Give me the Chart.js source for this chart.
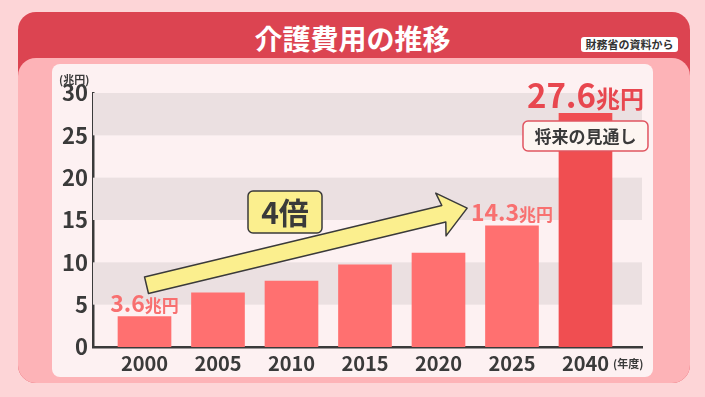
<!DOCTYPE html>
<html lang="ja">
<head>
<meta charset="utf-8">
<script src="https://cdn.jsdelivr.net/npm/chart.js@4.4.1/dist/chart.umd.min.js"></script>
<style>
  body { margin: 0; width: 705px; height: 397px; overflow: hidden; background: #fdd5d7; font-family: "Noto Sans CJK JP", sans-serif; }
  .card { position: absolute; left: 18px; top: 12px; width: 672px; height: 371px; background: #dc4451; border-radius: 18px; }
  .panel { position: absolute; left: 18px; top: 58px; width: 672px; height: 325px; background: #fdb3b7; border-radius: 18px; }
  .inner { position: absolute; left: 52px; top: 64px; width: 601px; height: 313px; background: #fdf1f2; border-radius: 8px; }
  .title { position: absolute; left: 0; top: 19px; width: 705px; text-align: center; color: #fff; font-weight: 700; font-size: 28px; line-height: 38px; }
  .source { position: absolute; left: 581px; top: 37px; width: 97px; height: 15px; background: #fff; border-radius: 3px; color: #333; font-size: 11px; font-weight: 700; line-height: 15px; text-align: center; }
  canvas { position: absolute; left: 0; top: 0; }
</style>
</head>
<body>
<div class="card"></div>
<div class="panel"></div>
<div class="inner"></div>
<div class="title">介護費用の推移</div>
<div class="source">財務省の資料から</div>
<canvas id="care" width="705" height="397"></canvas>
<script>
// data
const years = ["2000", "2005", "2010", "2015", "2020", "2025", "2040"];
const costs = [3.6, 6.4, 7.8, 9.7, 11.1, 14.3, 27.6];
const labelled = [0, 5, 6];
const bands = [[5, 10], [15, 20], [25, 30]];

const FONT = '"Noto Sans CJK JP", sans-serif';
const DARK = "#3a3a3a";

function roundBox(ctx, x, y, w, h, r, fill, stroke) {
    ctx.beginPath();
    ctx.roundRect(x, y, w, h, r);
    ctx.fillStyle = fill;
    ctx.fill();
    ctx.lineWidth = 1.5;
    ctx.strokeStyle = stroke;
    ctx.stroke();
}

// value label: big number + small unit, centered
function valueLabel(ctx, cx, bottom, num, numSize, unitSize, color) {
    ctx.font = "700 " + numSize + "px " + FONT;
    const w1 = ctx.measureText(num).width;
    ctx.font = "700 " + unitSize + "px " + FONT;
    const w2 = ctx.measureText("兆円").width;
    const x0 = cx - (w1 + w2) / 2;
    ctx.fillStyle = color;
    ctx.textAlign = "left";
    ctx.textBaseline = "alphabetic";
    ctx.font = "700 " + numSize + "px " + FONT;
    ctx.fillText(num, x0, bottom);
    ctx.font = "700 " + unitSize + "px " + FONT;
    ctx.fillText("兆円", x0 + w1, bottom);
}

const bandsPlugin = {
    id: "bands",
    beforeDatasetsDraw(chart) {
        const { ctx, chartArea, scales } = chart;
        ctx.save();
        ctx.fillStyle = "#ebe0e1";
        bands.forEach(([a, b]) => {
            const y1 = scales.y.getPixelForValue(b);
            const y2 = scales.y.getPixelForValue(a);
            ctx.fillRect(chartArea.left, y1, chartArea.right - chartArea.left, y2 - y1);
        });
        ctx.restore();
    },
};

const decoPlugin = {
    id: "deco",
    afterDatasetsDraw(chart) {
        const { ctx, scales } = chart;
        const x = scales.x, y = scales.y;
        ctx.save();

        // arrow from 2000 to 2025
        const tx = x.getPixelForValue(0) + 2, ty = y.getPixelForValue(7.3);
        const hx = x.getPixelForValue(4.39), hy = y.getPixelForValue(16.4);
        const ang = Math.atan2(hy - ty, hx - tx);
        const len = Math.hypot(hx - tx, hy - ty);
        ctx.translate(tx, ty);
        ctx.rotate(ang);
        const sw = 8.5, hw = 22, hl = 24;
        ctx.beginPath();
        ctx.moveTo(0, -sw);
        ctx.lineTo(len - hl, -sw);
        ctx.lineTo(len - hl - 3, -hw);
        ctx.lineTo(len, 0);
        ctx.lineTo(len - hl - 3, hw);
        ctx.lineTo(len - hl, sw);
        ctx.lineTo(0, sw);
        ctx.closePath();
        ctx.fillStyle = "#fbef8e";
        ctx.fill();
        ctx.lineWidth = 1.5;
        ctx.strokeStyle = DARK;
        ctx.lineJoin = "round";
        ctx.stroke();
        ctx.setTransform(1, 0, 0, 1, 0, 0);

        // 4倍 box
        roundBox(ctx, 248, 191, 74, 42, 5, "#fbef8e", DARK);
        ctx.fillStyle = DARK;
        ctx.font = "700 30px " + FONT;
        ctx.textAlign = "center";
        ctx.textBaseline = "middle";
        ctx.fillText("4倍", 285, 213);

        // value labels
        labelled.forEach((i) => {
            const cx = x.getPixelForValue(i);
            const top = y.getPixelForValue(costs[i]);
            if (i === 6) {
                valueLabel(ctx, cx, top - 5, costs[i].toFixed(1), 33, 24, "#e8474f");
            } else {
                valueLabel(ctx, cx, top - 5, costs[i].toFixed(1), 23, 17, "#f87070");
            }
        });

        // 将来の見通し
        const c6 = x.getPixelForValue(6);
        roundBox(ctx, c6 - 62.5, 121, 125, 30, 5, "#fdf6f1", "#e05560");
        ctx.fillStyle = DARK;
        ctx.font = "700 17px " + FONT;
        ctx.textAlign = "center";
        ctx.textBaseline = "middle";
        ctx.fillText("将来の見通し", c6, 137);

        // units
        ctx.font = "700 11px " + FONT;
        ctx.fillStyle = DARK;
        ctx.textAlign = "left";
        ctx.fillText("(兆円)", 59, 80);
        ctx.fillText("(年度)", 613, 364);
        ctx.restore();
    },
};

new Chart(document.getElementById("care"), {
    type: "bar",
    data: {
        datasets: [
            {
                data: costs.map((v, i) => ({ x: i, y: v })),
                backgroundColor: costs.map((v, i) => (i === 6 ? "#f04e51" : "#ff7070")),
                barThickness: 53,
            },
        ],
    },
    options: {
        responsive: false,
        animation: false,
        devicePixelRatio: 1,
        layout: { padding: { top: 93, right: 63, left: 0, bottom: 0 } },
        plugins: { legend: { display: false }, tooltip: { enabled: false } },
        scales: {
            x: {
                type: "linear",
                offset: false,
                min: -0.7007,
                max: 6.769,
                grid: { display: false, drawTicks: false },
                border: { display: true, color: DARK, width: 2.5 },
                ticks: {
                    stepSize: 1,
                    includeBounds: false,
                    padding: 4,
                    color: DARK,
                    font: { family: FONT, size: 20, weight: "700" },
                    callback: (v) => years[v] ?? "",
                },
                afterFit: (s) => { s.height = 50; },
            },
            y: {
                min: 0,
                max: 30,
                grid: { display: false, drawTicks: false },
                border: { display: true, color: DARK, width: 2.5 },
                ticks: {
                    stepSize: 5,
                    padding: 5,
                    color: DARK,
                    font: { family: FONT, size: 22, weight: "700" },
                },
                afterFit: (s) => { s.width = 93; },
            },
        },
    },
    plugins: [bandsPlugin, decoPlugin],
});
</script>
</body>
</html>
